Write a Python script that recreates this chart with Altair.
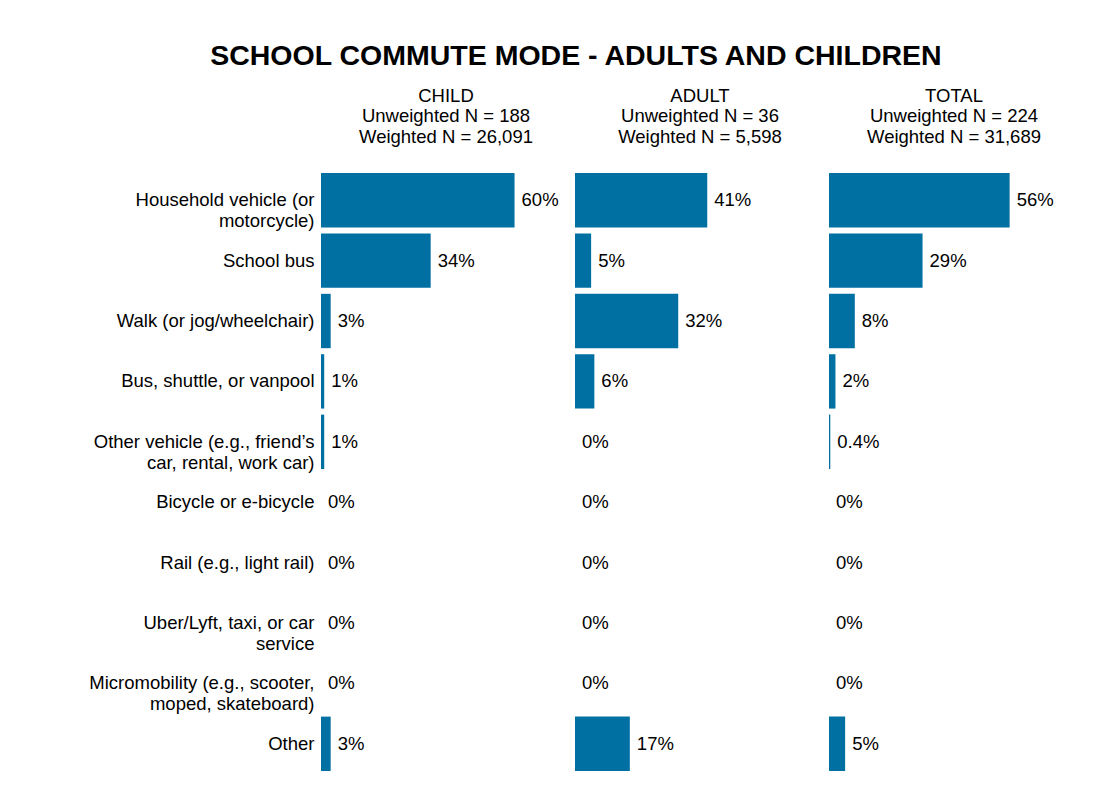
import altair as alt
import pandas as pd

modes = [
    "Household vehicle (or|motorcycle)",
    "School bus",
    "Walk (or jog/wheelchair)",
    "Bus, shuttle, or vanpool",
    "Other vehicle (e.g., friend’s|car, rental, work car)",
    "Bicycle or e-bicycle",
    "Rail (e.g., light rail)",
    "Uber/Lyft, taxi, or car|service",
    "Micromobility (e.g., scooter,|moped, skateboard)",
    "Other",
]
child_vals = [60, 34, 3, 1, 1, 0, 0, 0, 0, 3]
adult_vals = [41, 5, 32, 6, 0, 0, 0, 0, 0, 17]
total_vals = [56, 29, 8, 2, 0.4, 0, 0, 0, 0, 5]

groups = ["CHILD", "ADULT", "TOTAL"]
headers = [
    ["CHILD", "Unweighted N = 188", "Weighted N = 26,091"],
    ["ADULT", "Unweighted N = 36", "Weighted N = 5,598"],
    ["TOTAL", "Unweighted N = 224", "Weighted N = 31,689"],
]
title_text = "SCHOOL COMMUTE MODE - ADULTS AND CHILDREN"

rows = []
for g, vals in zip(groups, [child_vals, adult_vals, total_vals]):
    for m, v in zip(modes, vals):
        rows.append({"group": g, "mode": m, "value": v, "label": f"{v:g}%"})
df = pd.DataFrame(rows)

FONT = "Liberation Sans"
BLUE = "#0070A2"
FS = 18.5


def panel(g, hdr, show_axis):
    base = alt.Chart(df).transform_filter(alt.datum.group == g)
    if show_axis:
        yax = alt.Axis(
            title=None, domain=False, ticks=False, labelFontSize=FS,
            labelColor="black", labelFont=FONT, labelLineHeight=21,
            labelPadding=7, labelLimit=400,
            labelExpr="split(datum.value, '|')",
        )
    else:
        yax = None
    y = alt.Y("mode:N", sort=modes, axis=yax,
              scale=alt.Scale(paddingInner=0.1, paddingOuter=0.05))
    x = alt.X("value:Q", axis=None, scale=alt.Scale(domain=[0, 77.5]))
    bars = base.mark_bar(color=BLUE).encode(x=x, y=y)
    text = base.mark_text(align="left", baseline="middle", dx=7, fontSize=FS,
                          font=FONT, color="black").encode(x=x, y=y, text="label:N")
    return (bars + text).properties(
        width=250, height=604,
        title=alt.TitleParams(hdr, fontSize=FS, fontWeight="normal", font=FONT,
                              color="black", lineHeight=20.5, offset=24, anchor="middle"),
    )


chart = alt.hconcat(
    *[panel(g, h, i == 0) for i, (g, h) in enumerate(zip(groups, headers))],
    spacing=4,
).properties(
    title=alt.TitleParams(title_text, fontSize=28.5, fontWeight="bold", font=FONT,
                          color="black", anchor="middle", offset=16, dx=-8),
    padding={"left": 80, "top": 34, "right": 5, "bottom": 5},
    background="white",
).configure_view(stroke=None)

chart.save("out.html", embed_options={"renderer": "svg", "actions": False})
